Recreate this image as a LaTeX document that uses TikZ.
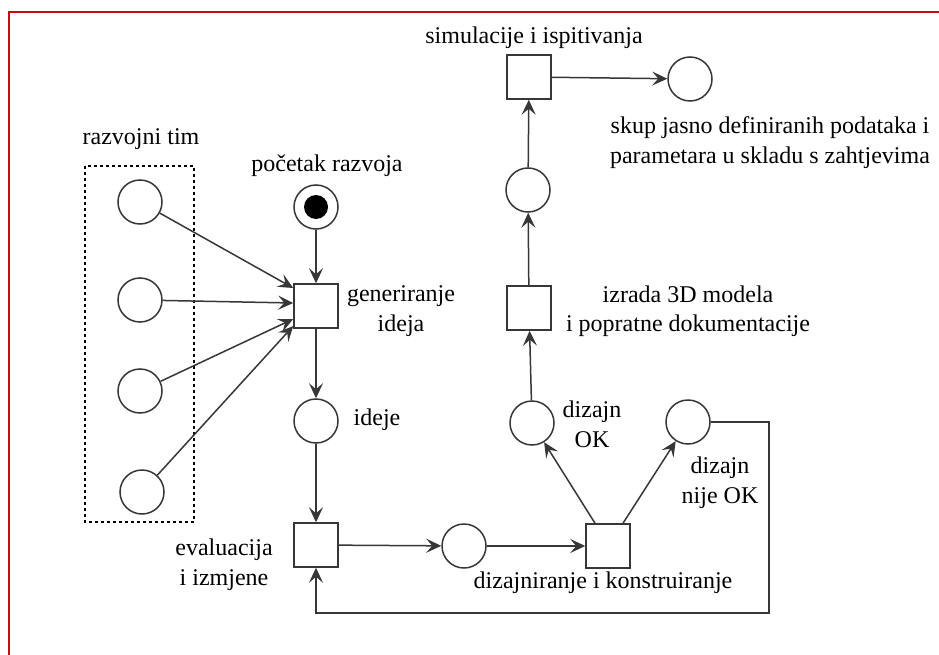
\documentclass[tikz,border=0pt]{standalone}
\usepackage{fontspec}
\setmainfont{Liberation Serif}
\newfontfamily\lblfont{Liberation Serif}
\usetikzlibrary{arrows.meta,calc}
\definecolor{linec}{RGB}{55,55,55}
\definecolor{framered}{RGB}{200,12,20}
\begin{document}
\begin{tikzpicture}[x=1pt,y=-1pt,
  place/.style={circle,draw=linec,line width=1.5pt,minimum size=44pt,inner sep=0pt},
  trans/.style={rectangle,draw=linec,line width=1.5pt,minimum size=44pt,inner sep=0pt},
  arc/.style={draw=linec,line width=1.5pt,-{Stealth[length=15pt,width=14pt,inset=6pt]}},
  lbl/.style={font=\lblfont\fontsize{24}{29.5}\selectfont,inner sep=0pt,align=center,text=black}]
\useasboundingbox (0,0) rectangle (939,655);
\fill[white] (0,0) rectangle (939,655);
\coordinate (f1) at (9,655);
\coordinate (f2) at (9,12);
\coordinate (f3) at (939,12);
\draw[framered,line width=2.6pt] (f1) -- (f2) -- (f3);

% team box
\coordinate (b1) at (85,166);
\coordinate (b2) at (194,522);
\draw[black,line width=2.8pt,dash pattern=on 2.8pt off 3.2pt] (b1) rectangle (b2);

% places and transitions
\node[place] (r1) at (140,202) {};
\node[place] (r2) at (140,300) {};
\node[place] (r3) at (140,391) {};
\node[place] (r4) at (142,492) {};
\node[place] (st) at (316,207) {};
\node[circle,fill=black,minimum size=24pt,inner sep=0pt] (tok) at (st) {};
\node[trans] (g) at (316,306) {};
\node[place] (id) at (316,421) {};
\node[trans] (ev) at (316,545) {};
\node[place] (p5) at (464,546) {};
\node[trans] (dk) at (608,546) {};
\node[place] (ok) at (532,423) {};
\node[place] (nok) at (688,422) {};
\node[trans] (iz) at (529,308) {};
\node[place] (p8) at (528,190) {};
\node[trans] (sim) at (529,77) {};
\node[place] (out) at (690,79) {};

% arcs
\draw[arc] (r1) -- ($(g.west)+(0,-18)$);
\draw[arc] (r2) -- ($(g.west)+(0,-3)$);
\draw[arc] (r3) -- ($(g.west)+(0,13)$);
\draw[arc] (r4) -- ($(g.west)+(0,20)$);
\draw[arc] (st) -- (g);
\draw[arc] (g) -- (id);
\draw[arc] (id) -- (ev);
\draw[arc] (ev) -- (p5);
\draw[arc] (p5) -- (dk);
\draw[arc] ($(dk.north)+(-13,0)$) -- (ok);
\draw[arc] ($(dk.north)+(15,0)$) -- (nok);
\draw[arc] (ok) -- (iz);
\draw[arc] (iz) -- (p8);
\draw[arc] (p8) -- (sim);
\draw[arc] (sim) -- (out);
\coordinate (c1) at (769,422);
\coordinate (c2) at (769,613);
\draw[arc] (nok.east) -- (c1) -- (c2) -| (ev.south);

% labels
\node[lbl,anchor=base] (lsim) at (534,44) {simulacije i ispitivanja};
\node[lbl,anchor=base] (lraz) at (141,145) {razvojni tim};
\node[lbl,anchor=base] (lpoc) at (327,172) {početak razvoja};
\node[lbl] (lgen) at (401,311) {generiranje\\ideja};
\node[lbl,anchor=base] (lide) at (377,425) {ideje};
\node[lbl] (lev) at (224,564.5) {evaluacija\\i izmjene};
\node[lbl,anchor=base] (ldk) at (603,588) {dizajniranje i konstruiranje};
\node[lbl] (lok) at (592,424.5) {dizajn\\OK};
\node[lbl] (lnok) at (720,482.5) {dizajn\\nije OK};
\node[lbl] (liz) at (688,311) {izrada 3D modela\\i popratne dokumentacije};
\node[lbl] (lout) at (770,142.5) {skup jasno definiranih podataka i\\parametara u skladu s zahtjevima};
\end{tikzpicture}
\end{document}
